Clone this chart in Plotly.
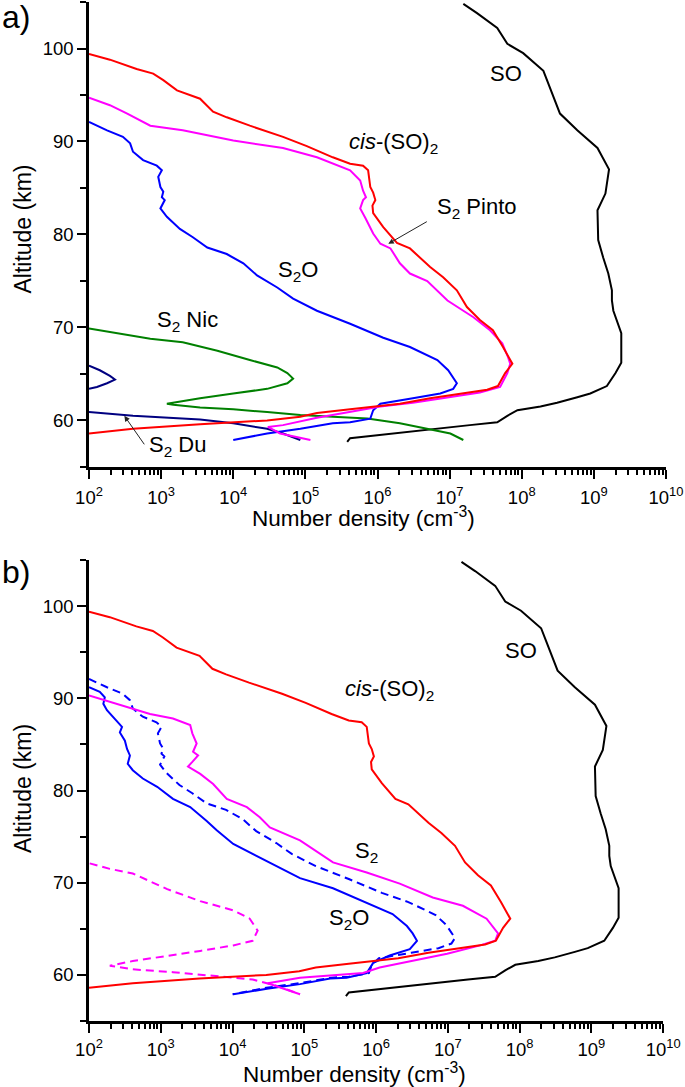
import plotly.graph_objects as go

# ---------------- data (log10 of number density in cm^-3, altitude in km) ----------------
# shared curves (same in both panels)
so_logn = [7.19, 7.38, 7.66, 7.80, 8.02, 8.30, 8.37, 8.53, 8.77, 9.05, 9.21, 9.16, 9.05, 9.06, 9.13, 9.20,
           9.25, 9.25, 9.27, 9.34, 9.38, 9.38, 9.30, 9.18, 8.95, 8.77, 8.49, 8.26, 7.94, 7.80, 7.66, 7.28,
           6.83, 6.27, 5.90, 5.62, 5.58]
so_alt = [104.8, 103.8, 102.2, 100.5, 99.5, 97.6, 96.2, 93.0, 91.2, 89.3, 87.0, 84.4, 82.6, 79.4, 77.5, 75.8,
          74.0, 72.9, 71.8, 70.4, 69.4, 66.2, 65.1, 63.7, 62.9, 62.5, 61.9, 61.5, 61.1, 60.5, 59.8, 59.5,
          59.1, 58.6, 58.3, 58.1, 57.7]

cis_logn = [2.00, 2.29, 2.66, 2.89, 3.03, 3.22, 3.54, 3.72, 3.91, 4.23, 4.69, 5.02, 5.38, 5.62, 5.80, 5.87,
            5.90, 5.94, 5.97, 5.93, 5.94, 6.08, 6.27, 6.45, 6.73, 6.91, 7.10, 7.19, 7.24, 7.42, 7.60, 7.74,
            7.87, 7.77, 7.67, 7.52, 7.19, 6.73, 6.31, 5.80, 5.62, 5.16, 4.93, 4.47, 4.00, 3.54, 2.61, 2.00]
cis_alt = [99.4, 98.8, 97.8, 97.3, 96.6, 95.5, 94.6, 93.2, 92.6, 91.7, 90.5, 89.5, 88.3, 87.6, 87.4, 86.9,
           85.1, 84.5, 83.7, 83.1, 82.3, 80.8, 79.1, 78.5, 76.5, 75.4, 74.0, 72.9, 72.2, 70.8, 69.7, 67.9,
           66.1, 65.1, 63.7, 63.3, 62.9, 62.4, 61.8, 61.4, 61.2, 60.8, 60.4, 60.0, 59.8, 59.6, 59.1, 58.6]

# panel a
s2_pinto_logn = [2.00, 2.29, 2.53, 2.85, 3.30, 4.00, 4.69, 5.16, 5.62, 5.76, 5.80, 5.84, 5.80, 5.76, 5.83,
                 5.94, 6.04, 6.18, 6.31, 6.45, 6.69, 6.83, 6.97, 7.19, 7.33, 7.56, 7.73, 7.81, 7.84, 7.80,
                 7.70, 7.42, 6.97, 6.49, 6.04, 5.62, 5.16, 4.69, 4.48, 4.65, 5.07]
s2_pinto_alt = [94.7, 93.9, 93.0, 91.7, 91.2, 90.1, 89.3, 88.3, 86.9, 85.8, 84.7, 84.0, 83.7, 82.8, 81.8,
                80.1, 79.0, 78.5, 76.9, 75.8, 75.0, 74.0, 72.9, 71.8, 71.1, 69.7, 68.3, 66.8, 66.1, 65.1,
                63.6, 63.0, 62.5, 61.9, 61.5, 60.9, 60.3, 59.5, 59.3, 58.6, 57.9]

s2o_a_logn = [2.00, 2.25, 2.47, 2.57, 2.61, 2.75, 2.94, 3.01, 2.96, 2.99, 3.03, 3.01, 3.05, 2.99, 3.08,
              3.26, 3.44, 3.64, 3.91, 4.14, 4.33, 4.61, 4.83, 5.16, 5.62, 6.08, 6.45, 6.83, 6.98, 7.10,
              7.05, 6.87, 6.49, 6.04, 5.94, 5.90, 5.62, 5.38, 4.93, 4.47, 4.00]
s2o_a_alt = [92.1, 91.2, 90.5, 89.8, 88.9, 88.0, 87.4, 86.9, 86.2, 85.1, 84.6, 84.0, 83.7, 82.8, 81.9,
             80.6, 79.7, 78.6, 77.9, 76.9, 75.6, 74.3, 73.1, 71.8, 70.4, 68.9, 67.9, 66.5, 65.4, 64.0,
             63.4, 62.9, 62.4, 61.8, 61.1, 60.2, 59.8, 59.7, 59.1, 58.6, 57.9]

s2_nic_logn = [2.00, 2.39, 2.85, 3.30, 3.78, 4.23, 4.61, 4.75, 4.83, 4.75, 4.47, 4.00, 3.54, 3.08, 3.17,
               3.54, 4.00, 4.47, 4.93, 5.38, 5.86, 6.31, 6.69, 7.01, 7.19]
s2_nic_alt = [69.9, 69.4, 68.8, 68.4, 67.5, 66.5, 65.7, 65.1, 64.5, 64.0, 63.4, 62.9, 62.4, 61.8, 61.7,
              61.4, 61.2, 60.9, 60.6, 60.4, 60.2, 59.7, 59.1, 58.6, 57.9]

s2_du_upper_logn = [2.00, 2.15, 2.29, 2.36, 2.25, 2.11, 2.00]
s2_du_upper_alt = [65.9, 65.4, 64.8, 64.4, 64.0, 63.6, 63.4]
s2_du_lower_logn = [2.00, 2.61, 3.54, 4.00, 4.47, 4.69, 4.93]
s2_du_lower_alt = [60.9, 60.5, 60.1, 59.7, 59.1, 58.6, 57.9]

# panel b
s2_b_logn = [2.00, 2.29, 2.61, 2.85, 3.17, 3.41, 3.44, 3.50, 3.45, 3.52, 3.44, 3.38, 3.55, 3.73, 3.92,
             4.20, 4.38, 4.52, 4.94, 5.40, 5.87, 6.33, 6.79, 7.21, 7.54, 7.70, 7.66, 7.45, 6.99, 6.51,
             6.05, 5.82, 5.36, 4.94, 4.49, 4.94]
s2_b_alt = [90.3, 89.6, 88.9, 88.3, 87.8, 87.1, 86.2, 85.1, 84.2, 83.8, 83.1, 82.6, 81.8, 80.7, 79.1,
            78.2, 77.1, 76.0, 74.6, 72.2, 71.1, 69.9, 68.4, 67.5, 66.1, 64.5, 63.7, 63.2, 62.3, 61.5,
            60.8, 60.2, 59.9, 59.7, 59.1, 57.9]

s2o_b_logn = [2.00, 2.15, 2.22, 2.20, 2.25, 2.33, 2.40, 2.46, 2.43, 2.50, 2.53, 2.57, 2.54, 2.61, 2.75,
              2.95, 3.17, 3.41, 3.64, 3.78, 4.01, 4.48, 4.94, 5.40, 5.87, 6.23, 6.43, 6.51, 6.57, 6.47,
              6.19, 5.96, 5.87, 5.59, 5.36, 4.94, 4.48, 4.01]
s2o_b_alt = [91.2, 90.7, 90.1, 89.4, 88.7, 88.0, 87.4, 86.9, 86.3, 85.4, 84.5, 83.8, 82.9, 82.2, 81.3,
             80.4, 79.1, 78.2, 76.7, 75.7, 74.2, 72.3, 70.5, 69.4, 67.8, 66.6, 65.3, 64.5, 63.7, 62.8,
             62.1, 61.3, 60.2, 59.7, 59.6, 59.0, 58.5, 57.9]

s2_b_dash_logn = [2.01, 2.29, 2.61, 3.09, 3.55, 4.01, 4.24, 4.35, 4.28, 4.01, 3.55, 2.99, 2.61, 2.29, 2.61,
                  3.17, 3.78, 4.28, 4.62, 4.94]
s2_b_dash_alt = [72.1, 71.5, 71.0, 69.3, 68.0, 67.0, 66.1, 64.8, 63.7, 63.2, 62.6, 61.9, 61.5, 61.0, 60.6,
                 60.3, 59.9, 59.5, 58.8, 57.9]

x_exponents = [2, 3, 4, 5, 6, 7, 8, 9, 10]
alt_major = [60, 70, 80, 90, 100]
alt_minor = [55, 65, 75, 85, 95, 105]

# ---------------- figure ----------------
RED, MAG, BLUE, GREEN, NAVY, BLACK = "#ff0000", "#ff00ff", "#0000ff", "#008000", "#000080", "#000000"
FONT = "Liberation Sans, Arial, sans-serif"
fig = go.Figure()


def add(logn, alt, color, panel, dash=None, name=""):
    xa, ya = ("x", "y") if panel == "a" else ("x2", "y2")
    fig.add_trace(go.Scatter(
        x=[10 ** v for v in logn], y=alt, mode="lines", name=name,
        line=dict(color=color, width=2, dash=dash),
        xaxis=xa, yaxis=ya, showlegend=False, hoverinfo="skip"))


# panel a
add(so_logn, so_alt, BLACK, "a", name="SO")
add(s2_nic_logn, s2_nic_alt, GREEN, "a", name="S2 Nic")
add(s2_du_upper_logn, s2_du_upper_alt, NAVY, "a", name="S2 Du")
add(s2_du_lower_logn, s2_du_lower_alt, NAVY, "a", name="S2 Du")
add(s2o_a_logn, s2o_a_alt, BLUE, "a", name="S2O")
add(s2_pinto_logn, s2_pinto_alt, MAG, "a", name="S2 Pinto")
add(cis_logn, cis_alt, RED, "a", name="cis-(SO)2")

# panel b
add(so_logn, so_alt, BLACK, "b", name="SO")
add(s2_b_dash_logn, s2_b_dash_alt, MAG, "b", dash="8px,5px", name="S2 (dashed)")
add(s2o_a_logn, s2o_a_alt, BLUE, "b", dash="8px,5px", name="S2O (dashed)")
add(s2o_b_logn, s2o_b_alt, BLUE, "b", name="S2O")
add(s2_b_logn, s2_b_alt, MAG, "b", name="S2")
add(cis_logn, cis_alt, RED, "b", name="cis-(SO)2")

tickfont = dict(family=FONT, size=18.5, color="black")


def xaxis(anchor, domain, standoff):
    return dict(
        type="log", range=[2, 10], domain=domain, anchor=anchor, automargin=False,
        showline=True, linecolor="black", linewidth=2.5, mirror=False,
        showgrid=False, zeroline=False,
        ticks="outside", ticklen=9, tickwidth=2, tickcolor="black", ticklabelstandoff=standoff,
        tickmode="array", tickvals=[10 ** k for k in x_exponents],
        ticktext=[f"10<sup>{k}</sup>" for k in x_exponents],
        minor=dict(tickmode="array",
                   tickvals=[m * 10 ** k for k in x_exponents[:-1] for m in range(2, 10)],
                   ticks="outside", ticklen=5, tickwidth=1.5, tickcolor="black", showgrid=False),
        tickfont=tickfont,
    )


def yaxis(anchor, domain):
    return dict(
        range=[55, 105], domain=domain, anchor=anchor, automargin=False,
        showline=True, linecolor="black", linewidth=2.5,
        showgrid=False, zeroline=False,
        ticks="outside", ticklen=9, tickwidth=2, tickcolor="black",
        tickmode="array", tickvals=alt_major,
        minor=dict(tickmode="array", tickvals=alt_minor, ticks="outside", ticklen=6,
                   tickwidth=2, tickcolor="black", showgrid=False),
        tickfont=tickfont,
    )


fig.update_layout(
    width=685, height=1087,
    margin=dict(l=89, r=19, t=2, b=66, autoexpand=False),
    paper_bgcolor="white", plot_bgcolor="white",
    font=dict(family=FONT, color="black"),
    xaxis=xaxis("y", [0, 1], 3),
    yaxis=yaxis("x", [0.5437, 1]),
    xaxis2=xaxis("y2", [0, 0.995], 1),
    yaxis2=yaxis("x2", [0, 0.4524]),
)

lab = dict(family=FONT, size=22, color="black")


def text(t, x, y, panel):
    xr, yr = ("x", "y") if panel == "a" else ("x2", "y2")
    fig.add_annotation(text=t, x=x, y=y, xref=xr, yref=yr, showarrow=False, font=lab,
                       xanchor="center", yanchor="middle")


def arrow(x, y, ax, ay, panel):
    xr, yr = ("x", "y") if panel == "a" else ("x2", "y2")
    fig.add_annotation(text="", x=x, y=y, xref=xr, yref=yr, ax=ax, ay=ay, showarrow=True,
                       arrowhead=2, arrowsize=1.1, arrowwidth=1, arrowcolor="#222222")


def paper_text(t, x, y, size, angle=0):
    fig.add_annotation(text=t, xref="paper", yref="paper", x=x, y=y, showarrow=False,
                       textangle=angle, font=dict(family=FONT, size=size, color="black"),
                       xanchor="center", yanchor="middle")


# axis titles (pixel positions converted to paper fractions of the 577x1019 plot area)
paper_text("Number density (cm<sup>-3</sup>)", 0.4766, 0.4950, 22.5)
paper_text("Number density (cm<sup>-3</sup>)", 0.4610, -0.0510, 22.5)
paper_text("Altitude (km)", -0.1145, 0.7776, 23, angle=-90)
paper_text("Altitude (km)", -0.1145, 0.2286, 23, angle=-90)

# panel a labels (annotation x in log10 units on the log axis)
text("SO", 7.78, 97.3, "a")
text("<i>cis</i>-(SO)<sub>2</sub>", 6.22, 89.8, "a")
text("S<sub>2</sub> Pinto", 7.38, 82.8, "a")
text("S<sub>2</sub>O", 4.90, 76.1, "a")
text("S<sub>2</sub> Nic", 3.37, 70.7, "a")
text("S<sub>2</sub> Du", 3.23, 57.3, "a")
arrow(6.15, 79.0, 40, -23, "a")
arrow(2.49, 60.5, 21, 30, "a")

# panel b labels
text("SO", 8.02, 95.2, "b")
text("<i>cis</i>-(SO)<sub>2</sub>", 6.19, 90.85, "b")
text("S<sub>2</sub>", 5.87, 73.35, "b")
text("S<sub>2</sub>O", 5.62, 66.1, "b")

paper_text("a)", -0.1265, 0.985, 32)
paper_text("b)", -0.1265, 0.4406, 32)

fig.write_html(
    "out.html",
    config={"displayModeBar": False},
    post_script="document.body.style.margin='0';document.body.style.padding='0';"
                "document.body.style.overflow='hidden';",
)
